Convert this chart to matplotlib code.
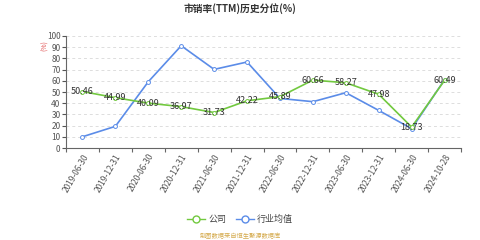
import numpy as np
import matplotlib
matplotlib.use("Agg")
from matplotlib import pyplot as plt
from matplotlib.lines import Line2D

plt.rcParams['font.family'] = ['Noto Sans CJK SC', 'DejaVu Sans']

dates = ['2019-06-30', '2019-12-31', '2020-06-30', '2020-12-31', '2021-06-30', '2021-12-31',
         '2022-06-30', '2022-12-31', '2023-06-30', '2023-12-31', '2024-06-30', '2024-10-28']
company = [50.46, 44.99, 40.09, 36.97, 31.73, 42.22, 45.89, 60.66, 58.27, 47.98, 18.73, 60.49]
industry = [10.1, 19.4, 59.2, 91.3, 70.2, 76.8, 44.3, 41.4, 49.4, 33.6, 17.3, 61.0]

green = '#72c93f'
blue = '#5b8ce8'

fig = plt.figure(figsize=(4.8, 2.4), dpi=100)
ax = fig.add_axes([0.1375, 0.383, 0.823, 0.467])

x = np.arange(len(dates))
ax.plot(x, industry, color=blue, lw=1.2, marker='o', ms=2.8, mfc='white', mec=blue, mew=0.7, zorder=3)
ax.plot(x, company, color=green, lw=1.2, marker='o', ms=2.8, mfc='white', mec=green, mew=0.7, zorder=4)
for xi, v in zip(x, company):
    ax.text(xi, v, f'{v:.2f}', fontsize=6.5, color='#333333', ha='center', va='center', zorder=5)

ax.set_xlim(-0.5, len(dates) - 0.5)
ax.set_ylim(0, 100)
ax.set_yticks(range(0, 101, 10))
ax.set_xticks(np.arange(len(dates) + 1) - 0.5, minor=False)
ax.set_xticklabels([])
ax.set_xticks(x, minor=True)
ax.set_xticklabels(dates, minor=True, rotation=60, ha='right', rotation_mode='anchor', fontsize=6, color='#555555')
ax.tick_params(axis='x', which='minor', length=0, pad=3)
ax.tick_params(axis='x', which='major', length=3, color='#666666')
ax.tick_params(axis='y', labelsize=6, colors='#555555', length=3, pad=1)
ax.yaxis.grid(True, ls=(0, (3, 3)), color='#dddddd', lw=0.7)
for s in ['top', 'right']:
    ax.spines[s].set_visible(False)
ax.spines['left'].set_color('#666666')
ax.spines['bottom'].set_color('#666666')

fig.text(0.5, 0.965, '市销率(TTM)历史分位(%)', ha='center', va='center', fontsize=7, fontweight='bold', color='#333333')
fig.text(0.094, 0.81, '(%)', rotation=90, ha='center', va='center', fontsize=5, color='#e05050')

handles = [Line2D([], [], color=green, marker='o', ms=5, mfc='white', mec=green, lw=1),
           Line2D([], [], color=blue, marker='o', ms=5, mfc='white', mec=blue, lw=1)]
fig.legend(handles, ['公司', '行业均值'], loc='center', bbox_to_anchor=(0.5, 0.085), ncol=2,
           frameon=False, fontsize=6.5, handlelength=2, columnspacing=1, handletextpad=0.4,
           labelcolor='#444444')
fig.text(0.5, 0.015, '制图数据来自恒生聚源数据库', ha='center', va='center', fontsize=4.5, color='#d4a94a')

fig.savefig('out.png')
